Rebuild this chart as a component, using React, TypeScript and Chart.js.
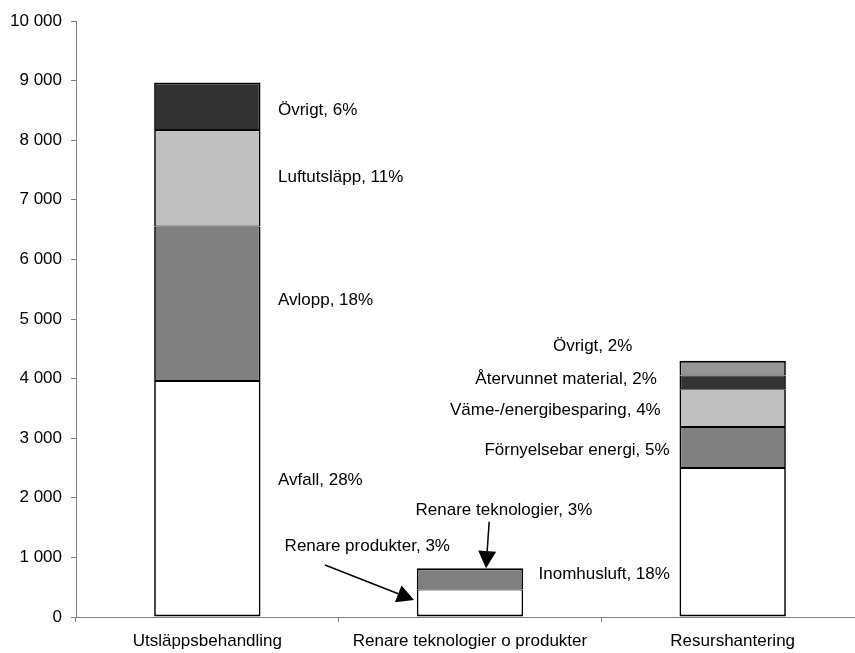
import React, { useEffect, useRef } from "react";
import { Chart, registerables } from "chart.js";

Chart.register(...registerables);

// ---- data ----
const categories = ["Utsläppsbehandling", "Renare teknologier o produkter", "Resurshantering"];
const level1 = [3960, 460, 2500]; // Avfall / Renare produkter / Inomhusluft
const level2 = [2590, 360, 690]; // Avlopp / Renare teknologier / Förnyelsebar energi
const level3 = [1620, null, 630]; // Luftutsläpp / - / Väme-/energibesparing
const level4 = [800, null, 230]; // Övrigt / - / Återvunnet material
const level5 = [null, null, 250]; // - / - / Övrigt
const yMin = 0;
const yMax = 10000;
const yStep = 1000;

// ---- annotation texts (anchor in category units / value units) ----
const labelTexts = [
  "Övrigt, 6%",
  "Luftutsläpp, 11%",
  "Avlopp, 18%",
  "Avfall, 28%",
  "Renare produkter, 3%",
  "Renare teknologier, 3%",
  "Inomhusluft, 18%",
  "Förnyelsebar energi, 5%",
  "Väme-/energibesparing, 4%",
  "Återvunnet material, 2%",
  "Övrigt, 2%",
];
const labelCat = [0.269, 0.269, 0.269, 0.269, 0.609, 1.129, 1.761, 1.76, 1.726, 1.711, 1.618];
const labelValue = [8500, 7370, 5320, 2290, 1180, 1795, 720, 2800, 3470, 3995, 4540];
const labelAlign: CanvasTextAlign[] = [
  "left", "left", "left", "left", "center", "center", "right", "right", "right", "right", "right",
];
const arrowFromCat = [0.448, 1.073];
const arrowFromValue = [872, 1599];
const arrowToCat = [0.787, 1.061];
const arrowToValue = [285, 820];

const FONT = "'Liberation Sans', Arial, sans-serif";

const levels = [level1, level2, level3, level4, level5];

const annotationPlugin = {
  id: "annotationsPlugin",
  afterDraw(chart: any) {
    const ctx = chart.ctx;
    const xs = chart.scales.x;
    const ys = chart.scales.y;
    ctx.save();
    ctx.fillStyle = "#000";
    ctx.font = `17px ${FONT}`;
    ctx.textBaseline = "middle";
    labelTexts.forEach((t, i) => {
      ctx.textAlign = labelAlign[i];
      ctx.fillText(t, xs.getPixelForValue(labelCat[i]), ys.getPixelForValue(labelValue[i]));
    });
    // arrows
    ctx.strokeStyle = "#000";
    ctx.lineWidth = 1.5;
    for (let i = 0; i < arrowFromCat.length; i++) {
      const x0 = xs.getPixelForValue(arrowFromCat[i]);
      const y0 = ys.getPixelForValue(arrowFromValue[i]);
      const x1 = xs.getPixelForValue(arrowToCat[i]);
      const y1 = ys.getPixelForValue(arrowToValue[i]);
      const dx = x1 - x0;
      const dy = y1 - y0;
      const len = Math.hypot(dx, dy);
      const ux = dx / len;
      const uy = dy / len;
      const headLen = 17;
      const half = 9;
      const bx = x1 - ux * headLen;
      const by = y1 - uy * headLen;
      ctx.beginPath();
      ctx.moveTo(x0, y0);
      ctx.lineTo(bx, by);
      ctx.stroke();
      ctx.beginPath();
      ctx.moveTo(x1, y1);
      ctx.lineTo(bx - uy * half, by + ux * half);
      ctx.lineTo(bx + uy * half, by - ux * half);
      ctx.closePath();
      ctx.fill();
    }
    ctx.restore();
  },
};

function borderFor(ctx: any) {
  const d = ctx.datasetIndex;
  const i = ctx.dataIndex;
  let isTop = true;
  for (let k = d + 1; k < levels.length; k++) {
    if (levels[k][i] != null) isTop = false;
  }
  return {
    top: isTop ? 2 : 1,
    bottom: d === 0 ? 2 : 1,
    left: 1.7,
    right: 1.7,
  };
}

export default function App() {
  const canvasRef = useRef<HTMLCanvasElement | null>(null);

  useEffect(() => {
    if (!canvasRef.current) return;
    const common = {
      borderColor: "#000000",
      borderWidth: borderFor,
      borderSkipped: false,
      categoryPercentage: 1,
      barPercentage: 0.405,
    };
    const chart = new Chart(canvasRef.current, {
      type: "bar",
      data: {
        labels: categories,
        datasets: [
          { label: "L1", data: level1, backgroundColor: "#FFFFFF", ...common },
          { label: "L2", data: level2, backgroundColor: "#808080", ...common },
          { label: "L3", data: level3, backgroundColor: "#C0C0C0", ...common },
          { label: "L4", data: level4, backgroundColor: "#333333", ...common },
          { label: "L5", data: level5, backgroundColor: "#969696", ...common },
        ] as any,
      },
      options: {
        responsive: false,
        animation: false,
        devicePixelRatio: 1,
        layout: { padding: { top: 21, left: 0, right: 0, bottom: 0 } },
        plugins: {
          legend: { display: false },
          tooltip: { enabled: false },
          title: { display: false },
        },
        scales: {
          x: {
            stacked: true,
            offset: true,
            grid: {
              offset: true,
              drawOnChartArea: false,
              drawTicks: true,
              tickLength: 5,
              color: "#808080",
            },
            border: { color: "#808080", width: 1 },
            ticks: {
              color: "#000",
              padding: 9,
              maxRotation: 0,
              autoSkip: false,
              font: { family: FONT, size: 17 },
            },
            afterFit: (s: any) => {
              s.height = 36;
            },
          },
          y: {
            stacked: true,
            min: yMin,
            max: yMax,
            grid: {
              drawOnChartArea: false,
              drawTicks: true,
              tickLength: 5,
              color: "#808080",
            },
            border: { color: "#808080", width: 1 },
            ticks: {
              stepSize: yStep,
              color: "#000",
              padding: 9,
              font: { family: FONT, size: 17 },
              callback: (v: any) => String(v).replace(/\B(?=(\d{3})+(?!\d))/g, " "),
            },
            afterFit: (s: any) => {
              s.width = 76;
            },
          },
        },
      } as any,
      plugins: [annotationPlugin],
    });
    return () => chart.destroy();
  }, []);

  return (
    <div
      style={{
        position: "fixed",
        left: 0,
        top: 0,
        width: 855,
        height: 653,
        overflow: "hidden",
        background: "#fff",
      }}
    >
      <canvas ref={canvasRef} width={864} height={653} style={{ display: "block" }} />
    </div>
  );
}
